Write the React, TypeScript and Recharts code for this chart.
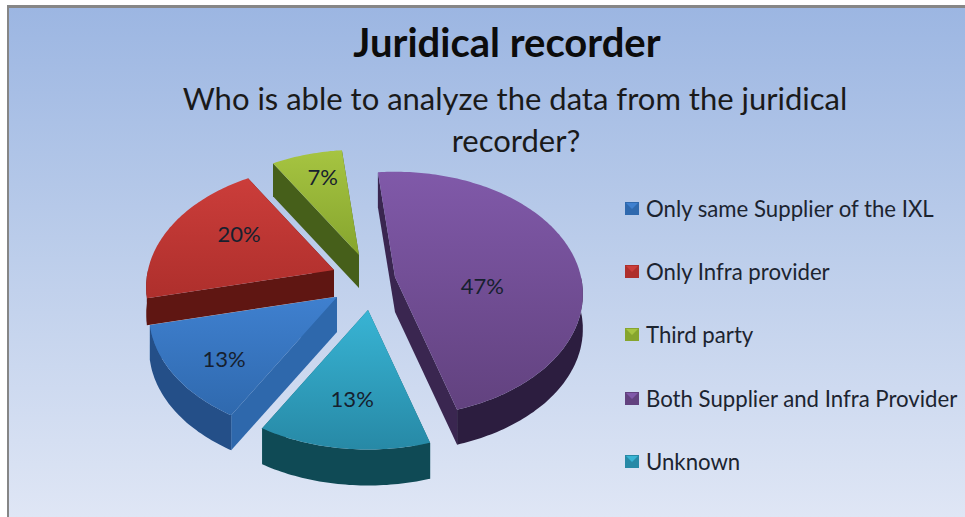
import { PieChart, Pie, Legend } from "recharts";

const categories = [
  "Only same Supplier of the IXL",
  "Only Infra provider",
  "Third party",
  "Both Supplier and Infra Provider",
  "Unknown",
];
const shares = [13, 20, 7, 47, 13];

// top face gradient, flat side wall, curved wall
const topLight = ["#3F80CF", "#CB3D3A", "#A6C441", "#8059A9", "#38B4D4"];
const topDark = ["#2F69AE", "#AE2F2C", "#86A52E", "#62427F", "#2789A6"];
const sideWalls = ["#2E68AC", "#5F1612", "#465F1A", "#3A2650", "#14626F"];
const arcWalls = ["#244F88", "#5F1612", "#465F1A", "#2C1D3F", "#0F4A55"];

// how far each slice is pulled out of the pie, how thick it looks, and where its label sits
const pullX = [-31, -34, -9, 27, 0];
const pullY = [13, -14, -29, -7, 26];
const depths = [35, 27, 33, 35, 36];
const labelAt = [0.74, 0.62, 0.75, 0.47, 0.67];
const labelTurn = [3.4, -8, -2, -20.4, 0];

const CX = 368;
const CY = 284;
const RADIUS = 186;
const SQUASH = 120 / 186;
const TILT = 0.14;
const FONT = "Lato, 'Open Sans', sans-serif";

const tableData = categories.map((name, i) => ({
  name,
  value: shares[i],
  fill: topLight[i],
}));

const rad = (deg: number) => (deg * Math.PI) / 180;

const sliceGeometry = (props: any) => {
  const i = categories.indexOf(props.name ?? props.payload?.name);
  const mid = (props.startAngle + props.endAngle) / 2;
  const ox = props.cx + pullX[i];
  const oy = props.cy + pullY[i];
  const at = (deg: number, r = 1) => {
    const u = r * Math.cos(rad(deg));
    const v = -r * Math.sin(rad(deg));
    const w = 1 - TILT * v;
    return [
      ox + (props.outerRadius * u) / w,
      oy + (props.outerRadius * SQUASH * v) / w,
    ];
  };
  const lo = Math.min(props.startAngle, props.endAngle);
  const hi = Math.max(props.startAngle, props.endAngle);
  const arc: number[][] = [];
  for (let a = lo; a < hi; a += 1) arc.push(at(a));
  arc.push(at(hi));
  return { i, mid, ox, oy, at, arc };
};

const path = (pts: number[][]) =>
  "M" + pts.map((p) => p[0].toFixed(1) + " " + p[1].toFixed(1)).join("L") + "Z";

const WallShape = (props: any) => {
  const { i, ox, oy, arc } = sliceGeometry(props);
  const down = (p: number[]) => [p[0], p[1] + depths[i]];
  const apex = [ox, oy];
  const first = arc[0];
  const last = arc[arc.length - 1];
  // only the near part of the rim can be seen
  const rim = arc.filter((p) => p[1] >= oy);
  return (
    <g>
      <path d={path([apex, first, down(first), down(apex)])} fill={sideWalls[i]} />
      <path d={path([apex, last, down(last), down(apex)])} fill={sideWalls[i]} />
      {rim.length > 1 && (
        <path d={path([...rim, ...rim.map(down).reverse()])} fill={arcWalls[i]} />
      )}
    </g>
  );
};

const TopShape = (props: any) => {
  const { i, mid, ox, oy, at, arc } = sliceGeometry(props);
  const id = "slice-top-" + i;
  const label = at(mid + labelTurn[i], labelAt[i]);
  return (
    <g>
      <defs>
        <linearGradient id={id} x1="0" y1="0" x2="0" y2="1">
          <stop offset="0%" stopColor={topLight[i]} />
          <stop offset="100%" stopColor={topDark[i]} />
        </linearGradient>
      </defs>
      <path d={path([[ox, oy], ...arc])} fill={`url(#${id})`} />
      <text
        x={label[0]}
        y={label[1]}
        textAnchor="middle"
        dominantBaseline="central"
        fontFamily={FONT}
        fontSize={22}
        fill="#16202e"
      >
        {shares[i]}%
      </text>
    </g>
  );
};

const LegendIcon = ({ color, index }: any) => (
  <svg width={14} height={13} style={{ marginRight: 7, flex: "none" }}>
    <rect width={14} height={13} fill={topDark[index]} />
    <polygon points="1,1 13,1 7,7" fill={color} />
  </svg>
);

// both pies report their slices, so keep one row per category
const LegendRows = ({ payload }: any) => {
  const rows = categories.map((name) =>
    (payload ?? []).find((entry: any) => entry.value === name)
  );
  return (
    <div>
      {rows.map((entry: any, i: number) =>
        entry ? (
          <div
            key={entry.value}
            style={{
              display: "flex",
              alignItems: "center",
              height: 63.2,
              fontFamily: FONT,
              fontSize: 22.2,
              color: "#1c2430",
              whiteSpace: "nowrap",
            }}
          >
            <LegendIcon color={topLight[i]} index={i} />
            {entry.value}
          </div>
        ) : null
      )}
    </div>
  );
};

export default function App() {
  return (
    <div
      style={{
        position: "absolute",
        left: 0,
        top: 0,
        width: 965,
        height: 517,
        background: "#fff",
        overflow: "hidden",
      }}
    >
      <div
        style={{
          position: "absolute",
          left: 7,
          top: 5,
          width: 958,
          height: 512,
          boxSizing: "border-box",
          borderLeft: "2px solid #868686",
          borderTop: "3px solid #868686",
          background: "linear-gradient(180deg, #9CB6E2 0%, #BACCEA 45%, #DFE6F5 100%)",
        }}
      />
      <div style={{ position: "absolute", left: 0, top: 0 }}>
        <PieChart width={965} height={517} margin={{ top: 0, right: 0, bottom: 0, left: 0 }}>
          <text x={507} y={57} textAnchor="middle" fontFamily={FONT} fontWeight={700} fontSize={40} fill="#0c0c0c">
            Juridical recorder
          </text>
          <text x={515} y={110} textAnchor="middle" fontFamily={FONT} fontSize={31} fill="#1a1a1a">
            Who is able to analyze the data from the juridical
          </text>
          <text x={516} y={152} textAnchor="middle" fontFamily={FONT} fontSize={31} fill="#1a1a1a">
            recorder?
          </text>
          <Pie
            data={tableData}
            dataKey="value"
            nameKey="name"
            cx={CX}
            cy={CY}
            outerRadius={RADIUS}
            startAngle={-120}
            endAngle={-480}
            legendType="none"
            shape={WallShape}
            isAnimationActive={false}
          />
          <Pie
            data={tableData}
            dataKey="value"
            nameKey="name"
            cx={CX}
            cy={CY}
            outerRadius={RADIUS}
            startAngle={-120}
            endAngle={-480}
            shape={TopShape}
            isAnimationActive={false}
          />
          <Legend
            layout="vertical"
            align="right"
            verticalAlign="top"
            itemSorter={null}
            content={LegendRows}
            wrapperStyle={{ left: 625, top: 177, width: 340, height: 320 }}
          />
        </PieChart>
      </div>
    </div>
  );
}
